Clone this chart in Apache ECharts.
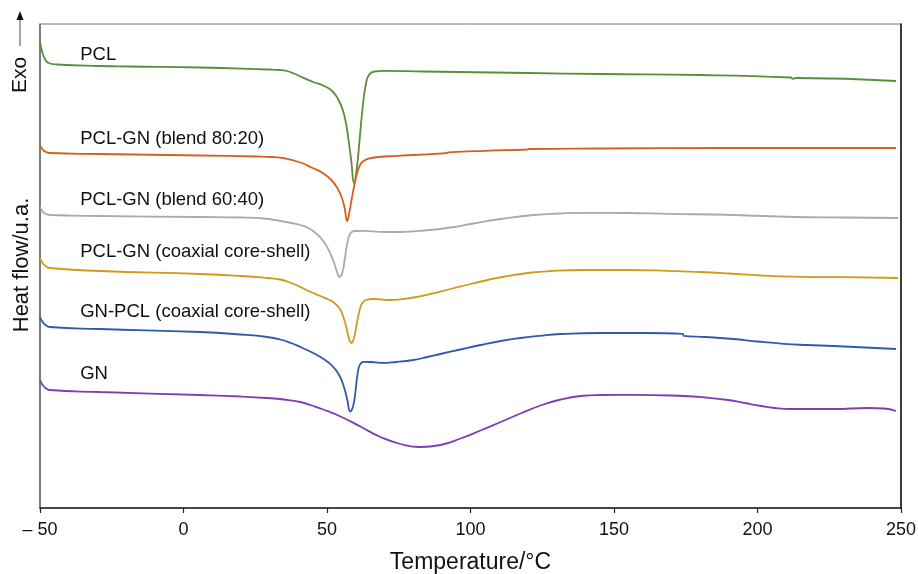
<!DOCTYPE html>
<html>
<head>
<meta charset="utf-8">
<title>DSC thermograms</title>
<script src="https://cdn.jsdelivr.net/npm/echarts@6/dist/echarts.min.js"></script>
<style>
  html, body { margin: 0; padding: 0; background: #fff; }
  #chart { width: 918px; height: 574px; }
</style>
</head>
<body>
<div id="chart"></div>
<script>
// Temperature axis (°C)
const xMin = -50, xMax = 250, xStep = 50;

// Sample names, top to bottom
const names = [
  'PCL',
  'PCL-GN (blend 80:20)',
  'PCL-GN (blend 60:40)',
  'PCL-GN (coaxial core-shell)',
  'GN-PCL (coaxial core-shell)',
  'GN'
];

// Heat flow curves (arbitrary units, stacked offsets): [temperature, heat flow]
const pcl = [
  [-50, 46.6], [-49.2, 45.6], [-48.3, 44.9], [-47, 44.5], [-44, 44.35], [-29.1, 44.2],
  [-18.6, 44.15], [5.8, 44.05], [29.2, 43.85], [33.7, 43.8], [36, 43.7], [38.5, 43.45],
  [40.7, 43.15], [45.2, 42.6], [49, 42.2], [51.8, 41.7], [54.0, 40.8], [55.5, 39.8],
  [56.6, 38.5], [57.5, 36.8], [58.5, 34.6], [59.4, 32.5], [60.4, 34.0], [61.6, 37.6],
  [62.6, 40.5], [63.5, 42.3], [64.6, 43.3], [66.5, 43.65], [70, 43.72], [83.6, 43.65],
  [120, 43.5], [145.3, 43.4], [180.2, 43.3], [211.6, 43.05], [212.3, 42.92], [213.5, 43.0],
  [248.3, 42.7]
];
const blend8020 = [
  [-50, 36.3], [-49.2, 35.9], [-48.3, 35.65], [-46.5, 35.5], [-29.1, 35.4], [5.8, 35.25],
  [25, 35.15], [31, 35.1], [35.5, 34.95], [40.7, 34.55], [45, 34.0], [48.5, 33.5],
  [51.5, 32.8], [53.6, 32.0], [55.2, 31.0], [56.2, 29.9], [57.0, 28.7], [57.8, 29.6],
  [58.8, 31.2], [60.0, 32.9], [61.2, 34.1], [62.7, 34.7], [65.5, 35.0], [70, 35.15],
  [80, 35.3], [89.5, 35.45], [91.8, 35.5], [92.2, 35.56], [105, 35.72], [119.9, 35.85],
  [120.2, 35.9], [145.3, 35.95], [191.7, 36.0], [248.3, 36.0]
];
const blend6040 = [
  [-50, 30.1], [-49.2, 29.7], [-48.3, 29.45], [-46.5, 29.3], [-29.1, 29.2], [5.8, 29.1],
  [20, 29.05], [28, 28.95], [33.7, 28.7], [37.5, 28.5], [40.7, 28.3], [43.5, 28.0],
  [46.3, 27.45], [48.7, 26.7], [50.6, 25.8], [52.1, 24.8], [53.4, 23.7], [54.3, 23.1],
  [55.3, 23.5], [56.2, 24.9], [57.1, 26.5], [58.1, 27.45], [59.6, 27.7], [63, 27.72],
  [68.6, 27.62], [75.6, 27.6], [84, 27.75], [93.0, 28.05], [101, 28.45], [110.5, 28.9],
  [122.0, 29.3], [131, 29.45], [139.4, 29.52], [155, 29.5], [168.7, 29.42], [191.7, 29.3],
  [212.7, 29.1], [230, 29.05], [249.0, 29.0]
];
const coreShellPclGn = [
  [-50, 25.0], [-49.2, 24.55], [-48.3, 24.25], [-46.5, 24.0], [-29.1, 23.7], [5.8, 23.4],
  [20, 23.2], [29.2, 23.0], [33.7, 22.85], [37.5, 22.5], [40.7, 22.1], [44, 21.65],
  [47.7, 21.2], [50.5, 20.85], [52.6, 20.5], [54.5, 19.9], [55.7, 19.1], [56.8, 18.0],
  [57.7, 16.9], [58.5, 16.5], [59.4, 17.0], [60.3, 18.3], [61.3, 19.7], [62.3, 20.5],
  [63.6, 20.8], [66, 20.9], [69, 20.85], [72.1, 20.8], [76, 20.88], [80.1, 21.05],
  [86, 21.4], [93.0, 21.9], [100, 22.4], [106, 22.8], [112, 23.15], [119.9, 23.5],
  [128, 23.7], [139.4, 23.8], [155, 23.8], [168.7, 23.72], [180, 23.6], [190, 23.45],
  [201.2, 23.25], [215.1, 23.12], [230, 23.08], [249.0, 23.0]
];
const coreShellGnPcl = [
  [-50, 19.1], [-49.2, 18.65], [-48.3, 18.35], [-46.5, 18.1], [-29.1, 17.9], [5.8, 17.6],
  [20, 17.35], [29.2, 17.1], [33.7, 16.85], [37.5, 16.5], [40.7, 16.1], [44.5, 15.6],
  [47.7, 15.1], [50.5, 14.55], [52.8, 13.9], [54.6, 13.1], [55.9, 12.1], [57.0, 10.9],
  [58.1, 9.65], [59.1, 10.2], [59.9, 11.6], [60.6, 13.3], [61.4, 14.3], [62.7, 14.62],
  [65.5, 14.6], [68.6, 14.52], [74, 14.6], [80.1, 14.8], [85, 15.1], [89.5, 15.4],
  [96.5, 15.85], [103.5, 16.3], [110.5, 16.7], [117.4, 17.0], [124, 17.22], [131.4, 17.4],
  [145.3, 17.5], [160, 17.5], [174.0, 17.42], [174.3, 17.22], [182, 17.1], [191.7, 16.9],
  [200, 16.65], [209.2, 16.42], [217, 16.3], [226.6, 16.2], [248.3, 15.9]
];
const gn = [
  [-50, 12.8], [-49.2, 12.35], [-48.3, 12.05], [-46.5, 11.8], [-29.1, 11.6], [5.8, 11.3],
  [20, 11.15], [29.2, 11.0], [35, 10.85], [40.7, 10.6], [44.7, 10.25], [48.7, 9.85],
  [54.7, 9.15], [61.6, 8.15], [68.6, 7.1], [75.6, 6.4], [82.6, 6.1], [89.5, 6.3],
  [96.5, 6.95], [103.5, 7.75], [110.5, 8.6], [117.4, 9.45], [124.4, 10.25], [131.4, 10.85],
  [138.4, 11.2], [145.3, 11.3], [156.9, 11.32], [174.3, 11.2], [182, 11.05], [189.7, 10.8],
  [195.5, 10.5], [201.2, 10.2], [206, 10.0], [211.6, 9.9], [226.6, 9.9], [238.5, 10.0],
  [244, 9.95], [248.3, 9.7]
];

const curves = [pcl, blend8020, blend6040, coreShellPclGn, coreShellGnPcl, gn];
const colors = ['#5b8d3b', '#d4601f', '#aaaaaa', '#cf9c1a', '#2f5ba8', '#7a3fb3'];
// Heat-flow level of each curve name, written from -36 °C
const labelLevels = [45.3, 36.9, 30.8, 25.6, 19.6, 13.4];
const labelStart = -36;

const FONT = "'Liberation Sans', Arial, Helvetica, sans-serif";

const chart = echarts.init(document.getElementById('chart'), null, { renderer: 'canvas' });

const series = curves.map((d, i) => ({
  name: names[i],
  type: 'line',
  data: d,
  showSymbol: false,
  smooth: 0.5,
  lineStyle: { color: colors[i], width: 1.8 },
  z: 3
}));

const baseGraphic = [
  {
    type: 'text',
    x: 22, y: 265,
    rotation: Math.PI / 2,
    style: {
      text: 'Heat flow/u.a.',
      fontFamily: FONT, fontSize: 22, fill: '#111',
      align: 'center', verticalAlign: 'middle'
    }
  },
  {
    type: 'text',
    x: 20, y: 75,
    rotation: Math.PI / 2,
    style: {
      text: 'Exo',
      fontFamily: FONT, fontSize: 21, fill: '#111',
      align: 'center', verticalAlign: 'middle'
    }
  },
  {
    type: 'line',
    shape: { x1: 20, y1: 46, x2: 20, y2: 17 },
    style: { stroke: '#666', lineWidth: 1.2 }
  },
  {
    type: 'polygon',
    shape: { points: [[16.5, 20], [23.5, 20], [20, 11]] },
    style: { fill: '#111' }
  }
];

chart.setOption({
  animation: false,
  backgroundColor: '#fff',
  grid: {
    left: 40, right: 17, top: 24, bottom: 66,
    containLabel: false,
    outerBoundsMode: 'none',
    show: true, borderColor: '#777', borderWidth: 1
  },
  xAxis: {
    type: 'value',
    min: xMin, max: xMax, interval: xStep,
    name: 'Temperature/°C',
    nameLocation: 'middle',
    nameGap: 43,
    nameTextStyle: { fontFamily: FONT, fontSize: 23, color: '#111' },
    axisLine: { show: true, onZero: false, lineStyle: { color: '#222', width: 1.5 } },
    axisTick: { show: true, length: 5, lineStyle: { color: '#222', width: 1.2 } },
    axisLabel: {
      margin: 13,
      fontFamily: FONT, fontSize: 18, color: '#111',
      formatter: v => (v < 0 ? '\u2013 ' + Math.abs(v) : String(v))
    },
    splitLine: { show: false }
  },
  yAxis: [{
    type: 'value',
    min: 0, max: 48.4,
    axisLine: { show: true, onZero: false, lineStyle: { color: '#666', width: 1.5 } },
    axisTick: { show: false },
    axisLabel: { show: false },
    splitLine: { show: false }
  }, {
    type: 'value',
    position: 'right',
    min: 0, max: 48.4,
    axisLine: { show: true, onZero: false, lineStyle: { color: '#111', width: 1.5 } },
    axisTick: { show: false },
    axisLabel: { show: false },
    splitLine: { show: false }
  }],
  graphic: baseGraphic,
  series: series
});

// Curve names, positioned through the axis scales
const nameTexts = names.map((n, i) => {
  const p = chart.convertToPixel({ gridIndex: 0 }, [labelStart, labelLevels[i]]);
  return {
    type: 'text',
    x: p[0], y: p[1],
    style: {
      text: n,
      fontFamily: FONT, fontSize: 18.5, fill: '#111',
      align: 'left', verticalAlign: 'middle'
    },
    z: 10
  };
});
chart.setOption({ graphic: baseGraphic.concat(nameTexts) });
</script>
</body>
</html>
